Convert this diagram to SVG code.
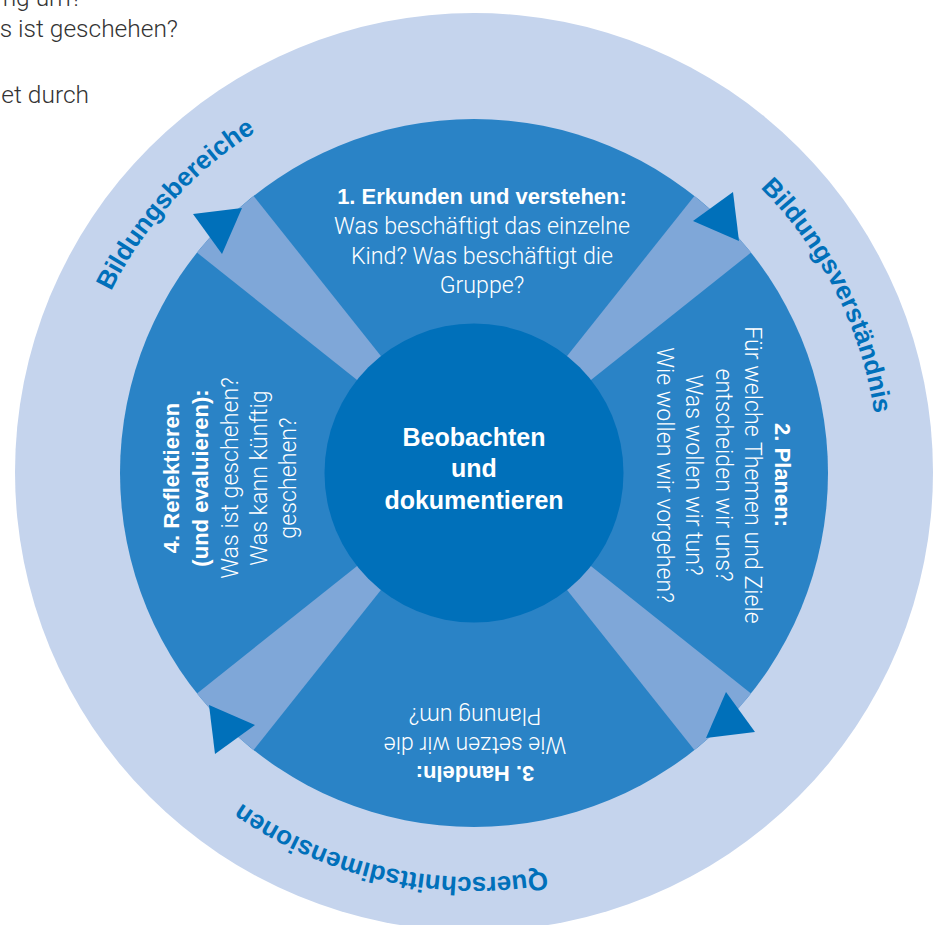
<svg xmlns="http://www.w3.org/2000/svg" xmlns:xlink="http://www.w3.org/1999/xlink" width="938" height="925" viewBox="0 0 938 925">
<style>
.light{font-family:Roboto,"Liberation Sans",sans-serif;font-weight:300;font-size:23.2px;fill:#ffffff}
.bold{font-family:"Liberation Sans",Arial,sans-serif;font-weight:bold;font-size:22px;fill:#ffffff}
.ctr{font-family:"Liberation Sans",Arial,sans-serif;font-weight:bold;font-size:25px;fill:#ffffff}
.ring{font-family:"Liberation Sans",Arial,sans-serif;font-weight:bold;font-size:26px;fill:#0070ba}
.frag{font-family:Roboto,"Liberation Sans",sans-serif;font-weight:300;font-size:24.5px;fill:#333333}
.band{fill:#7fa7d8}
.arrow{fill:#0070ba}
</style>
<defs>
<path id="wedge" d="M474 473 L751 693.4 A354 354 0 0 1 694.4 750 Z"/>
<polygon id="tri" points="193,214 242,208 222,254"/>
<path id="ringpath" d="M825.6 676 A406 406 0 0 1 122.4 270 A406 406 0 0 1 825.6 676"/>
</defs>
<g id="fragments">
<text class="frag" x="82" y="6" text-anchor="end">ng um?</text>
<text class="frag" x="178" y="37" text-anchor="end">s ist geschehen?</text>
<text class="frag" x="89" y="103" text-anchor="end">et durch</text>
</g>
<g id="outer-ring">
<circle cx="474" cy="472" r="459" fill="#c5d4ed"/>
</g>
<g id="process-ring">
<circle cx="474" cy="473" r="354" fill="#2a83c6"/>
<use xlink:href="#wedge" class="band"/>
<use xlink:href="#wedge" class="band" transform="rotate(90 474 473)"/>
<use xlink:href="#wedge" class="band" transform="rotate(180 474 473)"/>
<use xlink:href="#wedge" class="band" transform="rotate(270 474 473)"/>
</g>
<g id="connectors">
<use xlink:href="#tri" class="arrow"/>
<use xlink:href="#tri" class="arrow" transform="rotate(90 474 473)"/>
<use xlink:href="#tri" class="arrow" transform="rotate(180 474 473)"/>
<use xlink:href="#tri" class="arrow" transform="rotate(270 474 473)"/>
</g>
<g id="ring-labels">
<text class="ring" text-anchor="middle"><textPath xlink:href="#ringpath" startOffset="511.6">Querschnittsdimensionen</textPath></text>
<text class="ring" text-anchor="middle"><textPath xlink:href="#ringpath" startOffset="1355.6">Bildungsbereiche</textPath></text>
<text class="ring" text-anchor="middle"><textPath xlink:href="#ringpath" startOffset="2141.4">Bildungsverständnis</textPath></text>
</g>
<g id="step1" text-anchor="middle">
<text class="bold" x="482" y="204">1. Erkunden und verstehen:</text>
<text class="light" x="482" y="234">Was beschäftigt das einzelne</text>
<text class="light" x="482" y="263.5">Kind? Was beschäftigt die</text>
<text class="light" x="482" y="293">Gruppe?</text>
</g>
<g id="step2" text-anchor="middle" transform="translate(775 475) rotate(90)">
<text class="bold" x="0" y="0">2. Planen:</text>
<text class="light" x="0" y="29.6">Für welche Themen und Ziele</text>
<text class="light" x="0" y="59.2">entscheiden wir uns?</text>
<text class="light" x="0" y="88.8">Was wollen wir tun?</text>
<text class="light" x="0" y="118.4">Wie wollen wir vorgehen?</text>
</g>
<g id="step3" text-anchor="middle" transform="translate(475 766) rotate(180)">
<text class="bold" x="0" y="0">3. Handeln:</text>
<text class="light" x="0" y="29">Wie setzen wir die</text>
<text class="light" x="0" y="58.5">Planung um?</text>
</g>
<g id="step4" text-anchor="middle" transform="translate(179 478) rotate(-90)">
<text class="bold" x="0" y="0">4. Reflektieren</text>
<text class="bold" x="0" y="29.3">(und evaluieren):</text>
<text class="light" x="0" y="58.6">Was ist geschehen?</text>
<text class="light" x="0" y="87.9">Was kann künftig</text>
<text class="light" x="0" y="117.2">geschehen?</text>
</g>
<g id="center">
<circle cx="474" cy="473" r="149.5" fill="#0070ba"/>
<text class="ctr" x="474" y="446" text-anchor="middle">Beobachten</text>
<text class="ctr" x="474" y="477" text-anchor="middle">und</text>
<text class="ctr" x="474" y="509" text-anchor="middle">dokumentieren</text>
</g>
</svg>
